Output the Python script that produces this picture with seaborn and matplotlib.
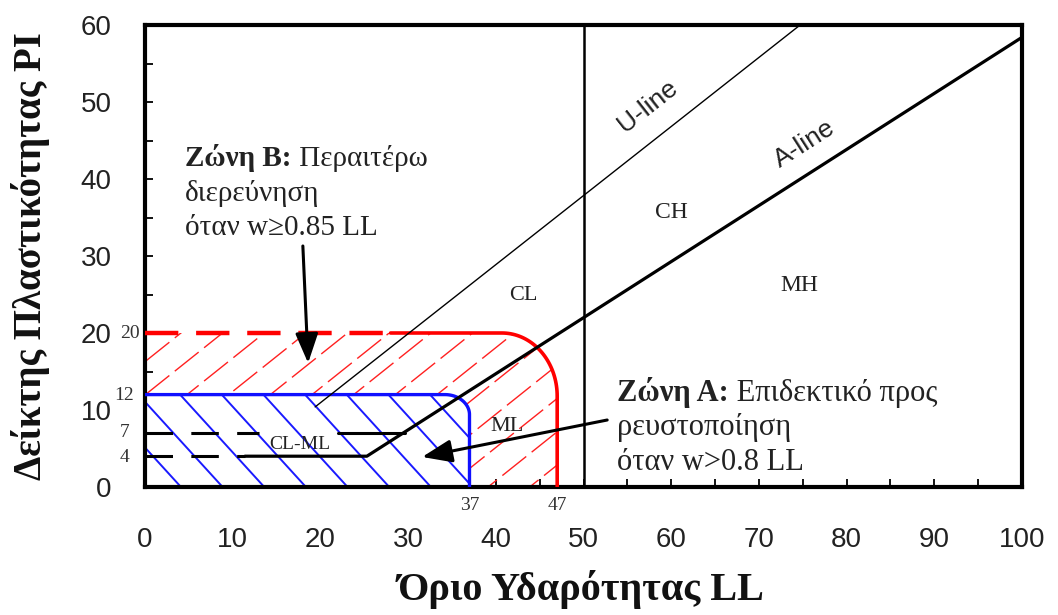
import numpy as np
import matplotlib
matplotlib.use("Agg")
import matplotlib.pyplot as plt
import seaborn as sns
from matplotlib.patches import Polygon

# --- values (LL = liquid limit, PI = plasticity index) ---
ll_ticks = list(range(0, 101, 10))
pi_ticks = list(range(0, 61, 10))

a_line_ll = [11.4, 25.3, 100]     # PI=4 segment then A-line
a_line_pi = [4, 4, 58.4]
u_line_ll = [19.4, 74.7]
u_line_pi = [10.4, 60]
pi4_dash_ll = [0, 11.4]
pi7_dash_ll = [0, 13]
pi7_solid_ll = [22, 29.6]
cl_ml_low = 4
cl_ml_high = 7
ll_split = 50

zone_a_ll, zone_a_pi = 37, 12
zone_b_ll, zone_b_pi = 47, 20
zone_b_dash_end = 28

small_pi_labels = ["20", "12", "7", "4"]
small_pi_values = [20, 11.9, 7.1, 3.8]
small_ll_labels = ["37", "47"]

region_labels = ["CL", "CH", "MH", "ML", "CL-ML"]
region_ll = [43.1, 60, 74.6, 41.3, 17.7]
region_pi = [24.9, 35.7, 26.2, 7.8, 5.5]
region_size = [16, 17, 17, 16, 14]

SERIF = "Liberation Serif"
SANS = "Liberation Sans"

sns.set_style("ticks")
plt.rcParams["font.family"] = [SANS, "DejaVu Sans"]


def zone_outline(ll, pi, rx, ry, n=40):
    # top edge from LL=0, rounded corner, then down to PI=0
    t = np.linspace(0, np.pi / 2, n)
    xs = np.r_[0, ll - rx + rx * np.sin(t), ll]
    ys = np.r_[pi, pi - ry + ry * np.cos(t), 0]
    return xs, ys


def hatch(ax, patch, x0s, y0, slope, **kw):
    for x0 in x0s:
        xs = np.array([-20.0, 120.0])
        ln, = ax.plot(xs, y0 + slope * (xs - x0), **kw)
        ln.set_clip_path(patch)


fig = plt.figure(figsize=(10.58, 6.15), dpi=100)
ax = fig.add_axes([145 / 1058, 1 - 487 / 615, (1022 - 145) / 1058, (487 - 25) / 615])

# zone B (red) and zone A (blue) areas
bx, by = zone_outline(zone_b_ll, zone_b_pi, 6.3, 8.2)
ax_, ay_ = zone_outline(zone_a_ll, zone_a_pi, 2.8, 2.6)
red_patch = Polygon(np.c_[np.r_[bx, 0], np.r_[by, 0]], closed=True,
                    facecolor="none", edgecolor="none")
blue_patch = Polygon(np.c_[np.r_[ax_, 0], np.r_[ay_, 0]], closed=True,
                     facecolor="white", edgecolor="none", zorder=1.5)
ax.add_patch(red_patch)
ax.add_patch(blue_patch)

hatch(ax, red_patch, 1.7 + 4.75 * np.arange(-12, 16), 13.5, 0.91,
      color="#ff2020", lw=1.0, ls=(0, (22, 5)), zorder=1)
hatch(ax, blue_patch, 13.5 + 4.75 * np.arange(-6, 8), zone_a_pi, -1.25,
      color="#1a1aff", lw=1.4, zorder=2)

# zone outlines
sns.lineplot(x=[0, zone_b_dash_end], y=[zone_b_pi, zone_b_pi], ax=ax,
             color="red", lw=3.2, linestyle=(0, (7.5, 4)), zorder=3)
keep = bx >= zone_b_dash_end
sns.lineplot(x=np.r_[zone_b_dash_end, bx[keep]], y=np.r_[zone_b_pi, by[keep]],
             ax=ax, color="red", lw=2.6, sort=False, estimator=None, zorder=3)
sns.lineplot(x=ax_, y=ay_, ax=ax, color="#1010ff", lw=2.4, sort=False,
             estimator=None, zorder=3)

# classification lines
sns.lineplot(x=a_line_ll, y=a_line_pi, ax=ax, color="black", lw=2.3,
             sort=False, estimator=None, zorder=4)
sns.lineplot(x=u_line_ll, y=u_line_pi, ax=ax, color="black", lw=1.0, zorder=4)
sns.lineplot(x=pi4_dash_ll, y=[cl_ml_low] * 2, ax=ax, color="black", lw=2.2,
             linestyle=(0, (9, 6)), zorder=4)
sns.lineplot(x=pi7_dash_ll, y=[cl_ml_high] * 2, ax=ax, color="black", lw=2.2,
             linestyle=(0, (9, 6)), zorder=4)
sns.lineplot(x=pi7_solid_ll, y=[cl_ml_high] * 2, ax=ax, color="black", lw=2.2,
             zorder=4)
ax.axvline(ll_split, color="black", lw=1.8, zorder=4)

# region labels
for lab, x, y, s in zip(region_labels, region_ll, region_pi, region_size):
    ax.text(x, y, lab, family=SERIF, fontsize=s, ha="center", va="center",
            color="#222222", zorder=5)

u_ang = np.degrees(np.arctan((u_line_pi[1] - u_line_pi[0]) / (u_line_ll[1] - u_line_ll[0])))
a_ang = np.degrees(np.arctan((a_line_pi[2] - a_line_pi[1]) / (a_line_ll[2] - a_line_ll[1])))
ax.text(57.3, 49.4, "U-line", fontsize=19, rotation=u_ang, transform_rotates_text=True,
        rotation_mode="anchor", ha="center", va="center", color="#222222")
ax.text(75.2, 44.6, "A-line", fontsize=19, rotation=a_ang, transform_rotates_text=True,
        rotation_mode="anchor", ha="center", va="center", color="#222222")

# zone captions (bold heading + normal text)
def caption(x, y, head, rest, lines, dy, size):
    t = ax.text(x, y, head, family=SERIF, fontsize=size, fontweight="bold",
                ha="left", va="baseline", color="#222222")
    ax.annotate(rest, xy=(1, 0), xycoords=t, family=SERIF, fontsize=size,
                ha="left", va="bottom", color="#222222")
    for i, ln in enumerate(lines):
        ax.text(x, y - dy * (i + 1), ln, family=SERIF, fontsize=size,
                ha="left", va="baseline", color="#222222")


caption(4.6, 41.7, "Ζώνη Β:", " Περαιτέρω", ["διερεύνηση", "όταν w≥0.85 LL"], 4.5, 21)
caption(53.8, 11.2, "Ζώνη Α:", " Επιδεκτικό προς", ["ρευστοποίηση", "όταν w>0.8 LL"], 4.5, 22)

arrow = dict(arrowstyle="-|>,head_length=1.3,head_width=0.5", color="black",
             lw=2.2, mutation_scale=14, shrinkA=0, shrinkB=0)
ax.annotate("", xy=(18.6, 16.1), xytext=(18.0, 31.3), arrowprops=arrow, zorder=6)
ax.annotate("", xy=(31.6, 3.9), xytext=(52.7, 8.7), arrowprops=arrow, zorder=6)

# small marker values next to the axes
for lab, v, off in zip(small_pi_labels, small_pi_values, [-4, -8, -11, -11]):
    ax.annotate(lab, xy=(0, v), xycoords=("axes fraction", "data"), xytext=(off, 0),
                textcoords="offset points", ha="right", va="center",
                family=SERIF, fontsize=14, color="#333333", annotation_clip=False)
for lab in small_ll_labels:
    ax.annotate(lab, xy=(float(lab), 0), xycoords=("data", "axes fraction"),
                xytext=(0, -7), textcoords="offset points", ha="center", va="top",
                family=SERIF, fontsize=14, color="#333333", annotation_clip=False)

# axes styling
ax.set_xlim(0, 100)
ax.set_ylim(0, 60)
ax.set_xticks(ll_ticks)
ax.set_yticks(pi_ticks)
ax.set_xticks(range(5, 100, 10), minor=True)
ax.set_yticks(range(5, 60, 10), minor=True)
ax.tick_params(which="both", direction="in", length=6, width=1.3, color="black",
               top=False, right=False)
ax.tick_params(axis="y", which="major", pad=24, labelsize=20, labelcolor="#222222")
ax.tick_params(axis="x", which="major", pad=29, labelsize=20, labelcolor="#222222")
for sp in ax.spines.values():
    sp.set_linewidth(3)
    sp.set_color("black")

ax.set_xlabel("Όριο Υδαρότητας LL", family=SERIF, fontsize=29, fontweight="bold",
              color="#111111", va="center")
ax.set_ylabel("Δείκτης Πλαστικότητας PI", family=SERIF, fontsize=28, fontweight="bold",
              color="#111111", va="center")
ax.xaxis.set_label_coords(0.497, -0.222)
ax.yaxis.set_label_coords(-0.131, 0.5)

fig.savefig("out.png", dpi=100, facecolor="white")
